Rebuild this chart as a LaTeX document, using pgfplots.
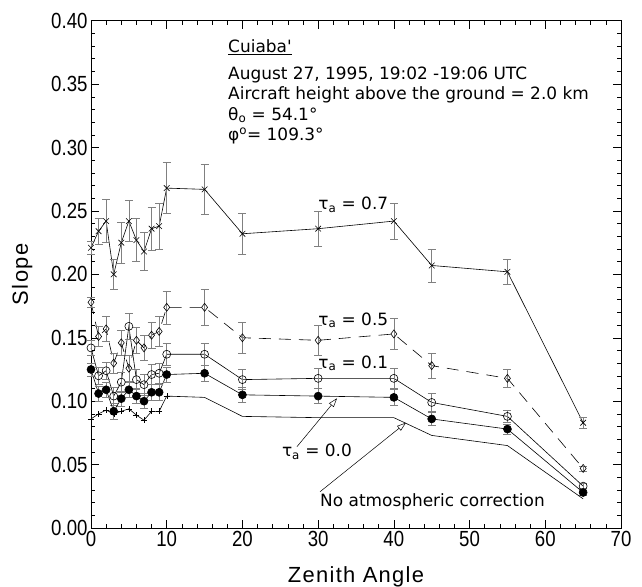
\documentclass[border=0pt]{standalone}
\usepackage{fontspec}
\setmainfont{Liberation Sans}
\newfontfamily\dejavu{DejaVu Sans}
\newfontfamily\tickfont[FakeStretch=0.85]{Liberation Sans}
\newfontfamily\labelfont[LetterSpace=6]{Liberation Sans}
\usepackage{pgfplots}
\usepackage{pgfplotstable}
\pgfplotsset{compat=1.18}
\usetikzlibrary{arrows.meta}

% tau_a = 0.7
\pgfplotstableread{
x y e
0 0.221 0.005
1 0.234 0.010
2 0.242 0.017
3 0.200 0.012
4 0.225 0.016
5 0.242 0.016
6 0.227 0.017
7 0.218 0.015
8 0.236 0.017
9 0.238 0.018
10 0.268 0.020
15 0.267 0.020
20 0.232 0.016
30 0.236 0.014
40 0.242 0.014
45 0.207 0.013
55 0.202 0.010
65 0.083 0.004
}\tauseven
% tau_a = 0.5
\pgfplotstableread{
x y e
0 0.178 0.004
1 0.151 0.008
2 0.157 0.010
3 0.130 0.008
4 0.146 0.010
5 0.126 0.010
6 0.148 0.010
7 0.142 0.010
8 0.152 0.010
9 0.155 0.012
10 0.174 0.013
15 0.174 0.014
20 0.150 0.012
30 0.148 0.012
40 0.153 0.012
45 0.128 0.010
55 0.118 0.007
65 0.047 0.002
}\taufive
% tau_a = 0.1
\pgfplotstableread{
x y e
0 0.142 0.006
1 0.120 0.007
2 0.124 0.007
3 0.104 0.007
4 0.115 0.008
5 0.159 0.010
6 0.117 0.008
7 0.113 0.008
8 0.121 0.008
9 0.122 0.008
10 0.137 0.009
15 0.137 0.009
20 0.117 0.008
30 0.118 0.008
40 0.118 0.008
45 0.099 0.007
55 0.088 0.005
65 0.033 0.002
}\tauone
% tau_a = 0.0
\pgfplotstableread{
x y e
0 0.125 0.005
1 0.106 0.006
2 0.109 0.006
3 0.092 0.006
4 0.102 0.006
5 0.109 0.006
6 0.104 0.006
7 0.100 0.006
8 0.107 0.006
9 0.107 0.006
10 0.121 0.006
15 0.122 0.006
20 0.105 0.006
30 0.104 0.006
40 0.103 0.006
45 0.086 0.005
55 0.078 0.004
65 0.028 0.002
}\tauzero
% no atmospheric correction
\pgfplotstableread{
x y
0 0.086
1 0.090
2 0.093
3 0.090
4 0.092
5 0.094
6 0.089
7 0.085
8 0.092
9 0.092
10 0.104
15 0.103
20 0.088
30 0.087
40 0.087
45 0.073
55 0.065
65 0.023
}\noatm

\begin{document}
\begin{tikzpicture}
\begin{axis}[
    at={(0,0)}, anchor=south west,
    scale only axis, width=530bp, height=507.3bp,
    xmin=0, xmax=70, ymin=0, ymax=0.40,
    xtick={0,10,20,30,40,50,60,70},
    ytick={0,0.05,0.10,0.15,0.20,0.25,0.30,0.35,0.40},
    minor x tick num=4, minor y tick num=4,
    major tick length=8bp, minor tick length=4bp,
    tick style={black, line width=0.5pt},
    axis line style={line width=0.8pt},
    /pgf/number format/assume math mode=true,
    yticklabel style={/pgf/number format/fixed, /pgf/number format/fixed zerofill,
        /pgf/number format/precision=2},
    ticklabel style={font=\tickfont\fontsize{22}{22}\selectfont},
    label style={font=\labelfont\fontsize{22}{22}\selectfont},
    xlabel={Zenith Angle}, ylabel={Slope},
    xlabel style={at={(axis description cs:0.5,-0.097)}, anchor=center},
    ylabel style={at={(axis description cs:-0.13,0.5)}, anchor=center},
    clip=false,
    error bars/error bar style={black!50, line width=0.6pt, solid},
    error bars/error mark options={rotate=90, black!50, mark size=4bp, line width=0.6pt, solid},
]
\addplot[black, line width=0.6pt, mark=x, mark size=4bp,
    error bars/.cd, y dir=both, y explicit]
    table[x=x, y=y, y error=e] {\tauseven};
\addplot[black, line width=0.6pt, dash pattern=on 12bp off 8bp,
    mark=diamond, mark size=4bp, mark options={solid},
    error bars/.cd, y dir=both, y explicit]
    table[x=x, y=y, y error=e] {\taufive};
\addplot[black, line width=0.6pt, mark=o, mark size=4bp,
    error bars/.cd, y dir=both, y explicit]
    table[x=x, y=y, y error=e] {\tauone};
\addplot[black, line width=0.6pt, mark=*, mark size=4bp,
    error bars/.cd, y dir=both, y explicit]
    table[x=x, y=y, y error=e] {\tauzero};
\addplot[black, line width=0.6pt] table[x=x, y=y] {\noatm};
\addplot[black, only marks, mark=+, mark size=3bp, restrict x to domain=0:10]
    table[x=x, y=y] {\noatm};

% annotations
\begin{scope}[font=\dejavu\fontsize{17}{20}\selectfont]
\node[anchor=base west, inner sep=0pt] at (axis cs:18.1,0.3746) {\underline{Cuiaba\textquotesingle}};
\node[anchor=base west, inner sep=0pt] at (axis cs:18.1,0.3539) {August 27, 1995, 19:02 -19:06 UTC};
\node[anchor=base west, inner sep=0pt] at (axis cs:18.1,0.3375) {Aircraft height above the ground = 2.0 km};
\node[anchor=base west, inner sep=0pt] at (axis cs:18.1,0.3214) {θ\textsubscript{o} = 54.1°};
\node[anchor=base west, inner sep=0pt] at (axis cs:18.1,0.3052) {φ\textsuperscript{o}= 109.3°};
\node[anchor=base west, inner sep=0pt] at (axis cs:30,0.2508) {τ\textsubscript{a} = 0.7};
\node[anchor=base west, inner sep=0pt] at (axis cs:30,0.160) {τ\textsubscript{a} = 0.5};
\node[anchor=base west, inner sep=0pt] at (axis cs:30,0.126) {τ\textsubscript{a} = 0.1};
\node[anchor=base west, inner sep=0pt] at (axis cs:25.2,0.0563) {τ\textsubscript{a} = 0.0};
\node[anchor=center, inner sep=0pt] at (axis cs:45.1,0.0207) {No atmospheric correction};
\end{scope}
\draw[black, line width=0.5pt, -{Triangle[open, length=9bp, width=6bp]}]
    (axis cs:27.2,0.0641) -- (axis cs:32.5,0.1023);
\draw[black, line width=0.5pt, -{Triangle[open, length=9bp, width=6bp]}]
    (axis cs:30.25,0.0286) -- (axis cs:41.6,0.083);
\end{axis}
\pgfresetboundingbox
\path[use as bounding box] (-91bp,-59bp) rectangle (551bp,528bp);
\end{tikzpicture}
\end{document}
